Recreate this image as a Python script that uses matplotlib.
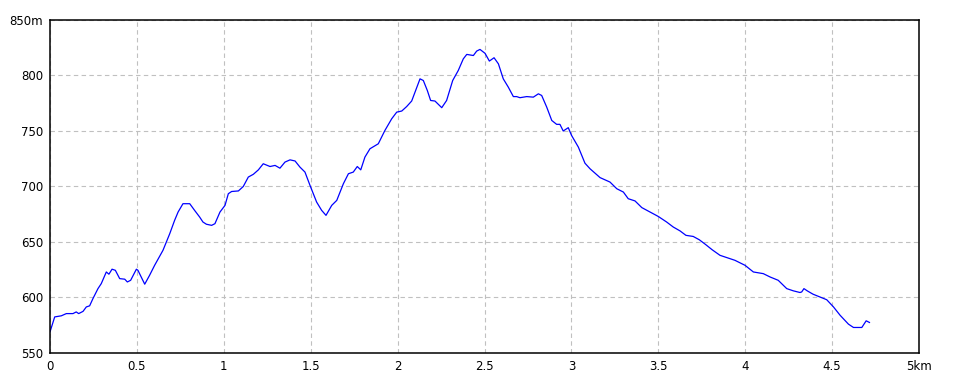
import matplotlib.pyplot as plt

# distance (km) and elevation (m)
dist = [0.0, 0.004, 0.027, 0.065, 0.094, 0.132, 0.151, 0.165, 0.19, 0.209, 0.228,
        0.247, 0.276, 0.295, 0.324, 0.339, 0.357, 0.376, 0.401, 0.43, 0.445, 0.464,
        0.497, 0.506, 0.545, 0.573, 0.602, 0.65, 0.689, 0.717, 0.737, 0.765, 0.804,
        0.832, 0.861, 0.88, 0.90, 0.93, 0.949, 0.978, 1.007, 1.026, 1.045, 1.084,
        1.112, 1.141, 1.17, 1.199, 1.227, 1.266, 1.295, 1.323, 1.352, 1.381, 1.41,
        1.438, 1.467, 1.496, 1.534, 1.563, 1.588, 1.621, 1.65, 1.688, 1.717, 1.745,
        1.768, 1.788, 1.812, 1.841, 1.889, 1.927, 1.966, 1.995, 2.024, 2.052, 2.081,
        2.1, 2.129, 2.148, 2.171, 2.19, 2.215, 2.254, 2.282, 2.317, 2.349, 2.378,
        2.398, 2.436, 2.455, 2.474, 2.503, 2.528, 2.555, 2.58, 2.608, 2.637, 2.666,
        2.685, 2.704, 2.743, 2.781, 2.81, 2.829, 2.858, 2.887, 2.915, 2.934, 2.953,
        2.982, 3.001, 3.04, 3.078, 3.107, 3.136, 3.165, 3.222, 3.261, 3.299, 3.327,
        3.366, 3.405, 3.452, 3.5, 3.548, 3.586, 3.625, 3.659, 3.701, 3.736, 3.77,
        3.81, 3.855, 3.894, 3.941, 3.999, 4.047, 4.104, 4.143, 4.19, 4.239, 4.277,
        4.315, 4.325, 4.338, 4.357, 4.39, 4.43, 4.469, 4.508, 4.546, 4.594, 4.623,
        4.671, 4.696, 4.715]
elev = [569, 571, 582.5, 583.5, 585.5, 585.5, 587, 585.5, 587.5, 591.5, 592.5,
        599, 608, 612.5, 623, 621, 625.5, 624.5, 617, 616.5, 614, 615.5,
        625.5, 624.5, 612, 620, 629, 642.5, 657.5, 669.5, 677, 684.5, 684.5,
        678.5, 672.5, 668, 666, 665, 666.5, 677, 683, 693.5, 695.5, 696,
        700, 708.5, 711, 715, 720.5, 718, 719, 716.5, 722, 724, 723,
        717.5, 713, 701, 686, 678.5, 674, 683, 687.5, 702.5, 711.5, 713,
        718, 715, 726.5, 734, 738.5, 750.5, 761, 767, 768, 772, 777,
        785, 797, 795.5, 786.5, 777.5, 777, 771, 777.5, 795.5, 804.5, 815,
        819, 818, 822, 823.5, 820, 813, 816, 810.5, 797, 789.5, 781,
        781, 780, 781, 780.5, 783.5, 782, 771.5, 759.5, 756, 756, 750,
        753, 746, 735.5, 721, 716, 712, 708, 704, 698, 695, 689,
        687, 681, 677, 673, 668, 663.5, 660, 656, 655, 652, 648,
        643, 638, 636, 633.5, 629, 623, 621.5, 618.5, 615.5, 608, 606,
        604.5, 605, 608, 606, 603, 600.5, 598, 591.5, 584, 576, 573,
        573, 579, 577.5]

x_ticks = [0, 0.5, 1, 1.5, 2, 2.5, 3, 3.5, 4, 4.5, 5]
x_labels = ['0', '0.5', '1', '1.5', '2', '2.5', '3', '3.5', '4', '4.5', '5km']
y_ticks = [550, 600, 650, 700, 750, 800, 850]
y_labels = ['550', '600', '650', '700', '750', '800', '850m']

fig = plt.figure(figsize=(9.6, 3.84), dpi=100)
ax = fig.add_axes([50 / 960, 31 / 384, 869 / 960, 333 / 384])

ax.plot(dist, elev, color='#0000ff', lw=0.9)

ax.set_xlim(0, 5)
ax.set_ylim(550, 850)
ax.set_xticks(x_ticks)
ax.set_xticklabels(x_labels)
ax.set_yticks(y_ticks)
ax.set_yticklabels(y_labels)
ax.tick_params(length=0, labelsize=8.5, pad=5)

ax.grid(True, color='#c0c0c0', linestyle=(0, (4, 3)), lw=0.8)
for sp in ax.spines.values():
    sp.set_linewidth(1.1)
    sp.set_color('black')

fig.savefig('out.png', dpi=100)
